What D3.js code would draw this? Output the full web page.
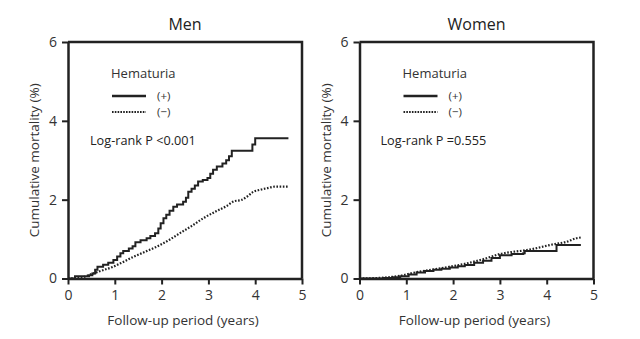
<!DOCTYPE html>
<html>
<head>
<meta charset="utf-8">
<script src="https://cdn.jsdelivr.net/npm/d3@7"></script>
<style>
  html, body { margin: 0; padding: 0; background: #fff; }
  svg { display: block; font-family: "Open Sans", "Liberation Sans", sans-serif; }
</style>
</head>
<body>
<svg id="chart" width="640" height="339"></svg>
<script>
// Kaplan-Meier style cumulative mortality by sex and hematuria status
const panels = ["Men", "Women"];
const xTicks = [0, 1, 2, 3, 4, 5];
const yTicks = [0, 2, 4, 6];
const legendTitle = "Hematuria";
const legendLabels = ["(+)", "(\u2212)"];
const logRankText = ["Log-rank P <0.001", "Log-rank P =0.555"];

// [years, cumulative mortality %]
const menPos = [
  [0, 0], [0.15, 0.06], [0.45, 0.08], [0.52, 0.13], [0.58, 0.22], [0.63, 0.30],
  [0.75, 0.35], [0.86, 0.40], [0.97, 0.47], [1.05, 0.56], [1.12, 0.64], [1.18, 0.70],
  [1.30, 0.76], [1.38, 0.82], [1.44, 0.92], [1.55, 0.97], [1.68, 1.02], [1.76, 1.08],
  [1.86, 1.15], [1.93, 1.27], [1.98, 1.40], [2.04, 1.53], [2.10, 1.62], [2.17, 1.72],
  [2.25, 1.82], [2.33, 1.88], [2.46, 1.95], [2.52, 2.05], [2.57, 2.20], [2.64, 2.28],
  [2.71, 2.36], [2.78, 2.46], [2.88, 2.50], [2.98, 2.55], [3.04, 2.66], [3.10, 2.76],
  [3.18, 2.84], [3.30, 2.92], [3.38, 3.00], [3.44, 3.10], [3.50, 3.24], [3.94, 3.40],
  [4.00, 3.56], [4.71, 3.56]
];
const menNeg = [
  [0, 0], [0.30, 0.03], [0.50, 0.11], [0.72, 0.20], [0.97, 0.30], [1.18, 0.42],
  [1.40, 0.55], [1.65, 0.68], [1.90, 0.81], [2.15, 0.97], [2.39, 1.15], [2.64, 1.33],
  [2.89, 1.53], [3.14, 1.69], [3.39, 1.84], [3.55, 1.96], [3.70, 1.99], [3.83, 2.08],
  [3.96, 2.20], [4.10, 2.25], [4.25, 2.29], [4.42, 2.33], [4.71, 2.33]
];
const womenPos = [
  [0, 0], [0.51, 0.01], [0.70, 0.03], [0.87, 0.06], [1.05, 0.10], [1.22, 0.15],
  [1.40, 0.19], [1.58, 0.22], [1.75, 0.25], [1.93, 0.28], [2.10, 0.31], [2.25, 0.34],
  [2.45, 0.40], [2.64, 0.45], [2.82, 0.52], [3.00, 0.59], [3.25, 0.62], [3.50, 0.64],
  [3.53, 0.70], [4.21, 0.85], [4.73, 0.85]
];
const womenNeg = [
  [0, 0], [0.50, 0.02], [0.87, 0.07], [1.22, 0.16], [1.58, 0.23], [1.93, 0.30],
  [2.28, 0.38], [2.64, 0.49], [3.00, 0.62], [3.30, 0.68], [3.57, 0.72], [3.82, 0.78],
  [4.07, 0.85], [4.25, 0.89], [4.42, 0.93], [4.63, 1.02], [4.73, 1.04]
];

const series = [[menPos, menNeg], [womenPos, womenNeg]];

const svg = d3.select("#chart");
const ink = "#222";
const textInk = "#333";

const plotW = 234, plotH = 236.5;
const origins = [{ x: 68, y: 42 }, { x: 359.5, y: 42 }];

panels.forEach((name, i) => {
  const o = origins[i];
  const g = svg.append("g").attr("transform", `translate(${o.x},${o.y})`);

  const x = d3.scaleLinear().domain([0, 5]).range([0, plotW]);
  const y = d3.scaleLinear().domain([0, 6]).range([plotH, 0]);

  // frame top and right
  g.append("path")
    .attr("d", `M0,0H${plotW}V${plotH}`)
    .attr("fill", "none").attr("stroke", ink).attr("stroke-width", 2.5);

  const xAxis = g.append("g").attr("transform", `translate(0,${plotH})`)
    .call(d3.axisBottom(x).tickValues(xTicks).tickFormat(d3.format("d"))
      .tickSize(6).tickSizeOuter(0).tickPadding(6));
  const yAxis = g.append("g")
    .call(d3.axisLeft(y).tickValues(yTicks).tickFormat(d3.format("d"))
      .tickSize(6).tickSizeOuter(0).tickPadding(5));

  [xAxis, yAxis].forEach(ax => {
    ax.select(".domain").attr("stroke", ink).attr("stroke-width", 2.5);
    ax.selectAll(".tick line").attr("stroke", ink).attr("stroke-width", 2);
    ax.selectAll(".tick text").attr("fill", textInk)
      .style("font-size", "14px").style("font-family", "'Open Sans', sans-serif");
  });

  // panel title
  svg.append("text")
    .attr("x", o.x + plotW / 2).attr("y", 30)
    .attr("text-anchor", "middle").attr("fill", ink)
    .style("font-size", "16px")
    .text(name);

  // axis titles
  svg.append("text")
    .attr("x", o.x + plotW / 2 - 2).attr("y", 325)
    .attr("text-anchor", "middle").attr("fill", textInk)
    .style("font-size", "13.5px")
    .text("Follow-up period (years)");

  svg.append("text")
    .attr("transform", `translate(${o.x - 29},${o.y + plotH / 2}) rotate(-90)`)
    .attr("text-anchor", "middle").attr("fill", textInk)
    .style("font-size", "13.5px")
    .text("Cumulative mortality (%)");

  // curves: (+) drawn as steps, (-) as a finely stepped, near-smooth dotted trace
  const stepLine = d3.line()
    .x(d => x(d[0])).y(d => y(d[1]))
    .curve(d3.curveStepAfter);
  const smoothLine = d3.line()
    .x(d => x(d[0])).y(d => y(d[1]))
    .curve(d3.curveMonotoneX);

  g.append("path").datum(series[i][1])
    .attr("d", smoothLine).attr("fill", "none")
    .attr("stroke", ink).attr("stroke-width", 2.2)
    .attr("stroke-dasharray", "1.6,1.6");

  g.append("path").datum(series[i][0])
    .attr("d", stepLine).attr("fill", "none")
    .attr("stroke", ink).attr("stroke-width", 2);

  // legend
  const lx = 43, ly = 36;
  g.append("text").attr("x", lx).attr("y", ly)
    .attr("fill", textInk).style("font-size", "13px").text(legendTitle);
  g.append("line").attr("x1", lx + 1).attr("x2", lx + 35)
    .attr("y1", ly + 18).attr("y2", ly + 18)
    .attr("stroke", ink).attr("stroke-width", 2.5);
  g.append("line").attr("x1", lx + 1).attr("x2", lx + 35)
    .attr("y1", ly + 34).attr("y2", ly + 34)
    .attr("stroke", ink).attr("stroke-width", 2.2).attr("stroke-dasharray", "1.6,1.2");
  g.append("text").attr("x", lx + 46).attr("y", ly + 22)
    .attr("fill", textInk).style("font-size", "11.5px").text(legendLabels[0]);
  g.append("text").attr("x", lx + 46).attr("y", ly + 38)
    .attr("fill", textInk).style("font-size", "11.5px").text(legendLabels[1]);

  g.append("text").attr("x", i === 0 ? 22 : 21).attr("y", 103)
    .attr("fill", ink).style("font-size", "12.7px").text(logRankText[i]);
});
</script>
</body>
</html>
